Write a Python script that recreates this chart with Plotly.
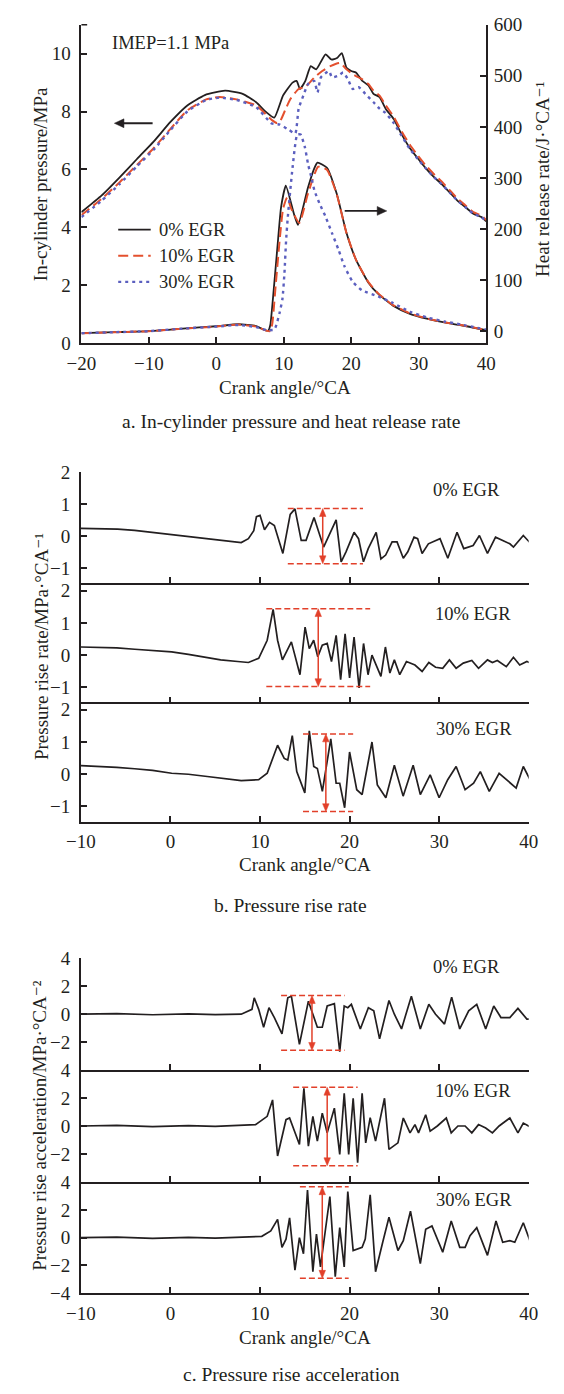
import plotly.graph_objects as go

# ---------------- Panel a: in-cylinder pressure (MPa) ----------------
P0_X = [-20, -17, -14.4, -11.8, -9.3, -6.8, -4.3, -1.7, 1.3, 3.9, 5.9, 7.4, 8.6, 9.9, 11.3, 11.9, 12.4, 13.2, 14.0, 14.8,
        16.2, 17.05, 17.9, 18.6, 19.3, 20.0, 20.7, 21.6, 22.55, 23.3, 24.2, 25.1, 26.3, 27.5, 28.7, 29.8, 31.0, 32.2,
        33.4, 34.6, 35.7, 36.9, 38.1, 39.3, 40]
P0_Y = [4.52, 5.1, 5.71, 6.35, 6.96, 7.64, 8.21, 8.57, 8.72, 8.61, 8.32, 7.98, 7.79, 8.56, 9.0, 9.06, 8.78, 9.06, 9.57,
        9.46, 9.98, 9.8, 9.85, 10.02, 9.51, 9.4, 9.35, 9.07, 8.9, 8.61, 8.5, 8.1, 7.74, 7.2, 6.73, 6.4, 6.05, 5.75, 5.49,
        5.2, 4.93, 4.7, 4.47, 4.35, 4.2]
P10_X = [-20, -17, -14.4, -11.8, -9.3, -6.8, -4.3, -1.5, 0.5, 3.0, 5.9, 8.2, 9.0, 9.4, 10.3, 11.0, 12.2, 13.15, 14.55,
         15.7, 16.9, 18.3, 19.3, 20.2, 21.6, 22.55, 23.3, 24.2, 25.1, 26.3, 27.5, 28.7, 29.8, 31.0, 32.2, 33.4, 34.6,
         35.7, 36.9, 38.1, 39.3, 40]
P10_Y = [4.42, 4.98, 5.54, 6.15, 6.73, 7.4, 8.04, 8.42, 8.5, 8.42, 8.21, 7.71, 7.6, 7.64, 8.1, 8.44, 8.78, 8.84, 9.18,
         9.4, 9.57, 9.68, 9.46, 9.29, 9.12, 8.95, 8.72, 8.55, 8.22, 7.82, 7.3, 6.85, 6.5, 6.15, 5.85, 5.58, 5.28, 5.0,
         4.76, 4.52, 4.4, 4.25]
P30_X = [-20, -17, -14.4, -11.8, -9.3, -6.8, -4.3, -1.5, 0.5, 3.0, 5.9, 8.2, 9.4, 10.8, 11.7, 12.2, 12.9, 13.6, 14.5,
         15.0, 15.5, 16.7, 17.15, 18.1, 18.8, 19.5, 20.2, 21.1, 22.1, 23.3, 24.2, 25.1, 26.3, 27.5, 28.7, 29.8, 31.0,
         32.2, 33.4, 34.6, 35.7, 36.9, 38.1, 39.3, 40]
P30_Y = [4.35, 4.92, 5.48, 6.1, 6.68, 7.36, 8.0, 8.4, 8.48, 8.4, 8.15, 7.59, 7.55, 7.36, 7.24, 8.1, 8.55, 8.95, 9.06,
         8.66, 9.18, 9.4, 9.18, 9.24, 9.35, 9.12, 8.78, 8.84, 8.61, 8.32, 8.1, 7.95, 7.6, 7.15, 6.7, 6.38, 6.05, 5.75,
         5.49, 5.2, 4.93, 4.7, 4.47, 4.35, 4.2]

# ---------------- Panel a: heat release rate (J/°CA) ----------------
H0_X = [-20, -15, -10, -5, 0, 3.3, 5.9, 7.2, 7.7, 8.0, 8.5, 9.15, 9.6, 10.3, 11.5, 12.1, 13.6, 14.55, 15.0, 16.4, 17.85,
        19.3, 20.7, 22.55, 24.0, 26.2, 28.7, 31.2, 33.8, 36.3, 40]
H0_Y = [-4, -2, 0, 5, 9.6, 13.5, 10, 2, 1, 12, 80, 179, 243, 285, 230, 208, 282, 320, 330, 320, 269, 192, 140, 95, 73,
        50, 34, 24.5, 17, 11.6, 2]
H10_X = [-20, -15, -10, -5, 0, 3.3, 5.9, 7.4, 8.0, 8.3, 8.8, 9.4, 9.9, 10.5, 11.1, 12.3, 13.6, 15.1, 16.4, 17.85, 19.3,
         20.7, 22.55, 24.0, 26.2, 28.7, 31.2, 33.8, 36.3, 40]
H10_Y = [-4, -2, 0, 5, 9, 13, 9, 1, 0, 15, 90, 180, 240, 262, 240, 212, 270, 322, 316, 268, 192, 140, 96, 74, 51, 35,
         25, 17.5, 12, 2]
H30_X = [-20, -15, -10, -5, 0, 3.3, 5.9, 7.5, 8.6, 8.9, 9.4, 9.8, 10.1, 10.35, 10.6, 11.3, 12.0, 12.5, 13.15, 13.6,
         14.1, 14.55, 15.3, 16.2, 17.15, 18.1, 19.0, 20.2, 21.6, 24.0, 26.2, 28.7, 31.2, 33.8, 36.3, 40]
H30_Y = [-4, -2, 0, 5, 9, 12, 8, 2, 3, 12, 37, 63, 114, 179, 224, 320, 385, 385, 359, 327, 301, 275, 250, 224, 192,
         160, 127, 97, 80, 68, 55, 38, 27, 19, 13, 3]

# ---------------- Panel b: pressure rise rate (MPa/°CA) ----------------
R0_X = [-10, -8, -5.9, -4, -2, 0.1, 2, 4, 5.6, 7.9, 8.7, 9.3, 9.6, 10.0, 10.5, 11.06, 11.6, 12.55, 13.37, 13.9, 14.6,
        15.14, 16.03, 17.1, 18.5, 19.06, 19.6, 20.5, 21.0, 21.55, 22.08, 22.97, 23.5, 24.03, 24.75, 25.3, 26.0, 26.5,
        27.2, 27.6, 28.1, 28.8, 30.1, 30.97, 32.0, 32.75, 33.8, 34.5, 35.4, 36.3, 37.9, 38.3, 39.4, 40.6]
R0_Y = [0.24, 0.23, 0.22, 0.18, 0.12, 0.04, 0.0, -0.07, -0.13, -0.2, -0.08, 0.17, 0.61, 0.65, 0.2, 0.43, 0.33, -0.54,
        0.68, 0.85, -0.13, -0.13, 0.58, -0.34, 0.51, -0.8, -0.49, 0.12, -0.08, -0.8, -0.39, 0.12, -0.71, -0.59, -0.18,
        -0.18, -0.69, -0.49, -0.03, -0.08, -0.54, -0.24, -0.08, -0.69, 0.12, -0.39, -0.29, 0.02, -0.54, -0.03, -0.24,
        -0.34, 0.02, -0.34]
R10_X = [-10, -8, -6, -4, -2, 0.13, 2, 4, 5.6, 7.5, 8.7, 9.85, 10.8, 11.46, 11.96, 12.5, 13.5, 14.46, 15.03, 15.5, 15.99,
         16.45, 16.95, 17.5, 17.98, 18.5, 19.0, 19.5, 20.0, 20.5, 21.06, 21.56, 22.06, 22.5, 23.5, 24.0, 24.5, 25.0,
         25.6, 26.35, 27.3, 28.1, 28.85, 29.6, 30.4, 31.15, 31.9, 32.7, 33.65, 34.4, 35.4, 35.95, 36.5, 37.5, 38.3,
         39.0, 39.8, 40.55]
R10_Y = [0.25, 0.24, 0.22, 0.18, 0.13, 0.1, 0.02, -0.07, -0.15, -0.2, -0.23, -0.1, 0.46, 1.42, 0.46, -0.15, 0.41,
         -0.61, 0.87, 0.2, 0.46, -0.05, 0.31, 0.36, -0.2, 0.61, -0.76, 0.66, -0.71, 0.56, -1.02, 0.36, -0.61, 0.0,
         -0.66, 0.25, -0.56, -0.15, -0.61, -0.2, -0.31, -0.51, -0.23, -0.38, -0.41, -0.15, -0.41, -0.25, -0.17, -0.41,
         -0.15, -0.23, -0.17, -0.36, -0.07, -0.31, -0.2, -0.28]
R30_X = [-10, -8, -6, -4, -2, 0.13, 2, 4.1, 6, 7.9, 9.85, 10.8, 11.96, 12.7, 13.1, 13.6, 14.1, 15.0, 15.5, 16.0, 16.4,
         16.96, 17.9, 18.5, 18.9, 19.45, 20.0, 20.8, 21.4, 22.5, 23.1, 24.05, 25.0, 25.98, 27.1, 27.9, 29.0, 30.0,
         30.96, 31.9, 32.9, 33.85, 34.6, 35.6, 36.7, 37.9, 38.6, 39.4, 40.55]
R30_Y = [0.27, 0.25, 0.21, 0.17, 0.12, 0.03, 0.0, -0.07, -0.13, -0.2, -0.17, 0.03, 0.9, 0.49, 0.44, 1.2, 0.08, -0.58,
         1.35, 0.24, 0.18, -0.53, 1.1, -0.28, -0.28, -1.04, 0.69, -0.48, -0.63, 1.0, -0.33, -0.73, 0.28, -0.68, 0.28,
         -0.63, -0.02, -0.73, -0.17, 0.24, -0.48, -0.28, 0.08, -0.53, 0.03, -0.28, -0.43, 0.24, -0.38]

# ---------------- Panel c: pressure rise acceleration (MPa/°CA^2) ----------------
A0_X = [-10, -6, -2, 2, 5, 7.9, 9.1, 9.35, 9.85, 10.4, 11.0, 11.6, 12.45, 13.1, 13.5, 14.4, 15.4, 15.8, 16.4, 16.95,
        17.5, 18.3, 18.9, 19.4, 19.8, 20.2, 21.2, 22.1, 22.7, 23.35, 24.4, 25.0, 25.8, 26.9, 27.9, 28.85, 29.6, 30.6,
        31.4, 32.3, 33.3, 34.2, 35.2, 36.1, 36.9, 37.9, 38.8, 39.8, 40.4]
A0_Y = [0, 0.04, -0.04, 0.03, -0.03, 0, 0.35, 1.18, 0.35, -0.94, 0.47, -0.24, -1.41, 1.18, 1.3, -2.17, 0.94, 0.24,
        -0.94, -0.94, 0.59, 0.76, -2.7, 0.59, 0.47, 0.71, -1.06, 0.47, 0.24, -1.77, 0.99, 0.0, -1.06, 1.3, -1.06, 0.71,
        0.0, -0.71, 1.23, -1.06, 0.24, 0.71, -1.06, 0.59, -0.24, -0.24, 0.42, -0.35, -0.35]
A10_X = [-10, -6, -2, 2, 5, 9.5, 10.8, 11.4, 11.96, 12.9, 13.3, 14.4, 14.9, 15.4, 15.9, 16.4, 16.95, 17.5, 18.3, 18.9,
         19.4, 19.9, 20.4, 20.9, 21.4, 21.8, 22.3, 22.9, 23.9, 24.4, 25.4, 26.0, 26.75, 27.3, 27.7, 28.5, 29.0, 29.8,
         30.8, 31.35, 32.1, 32.9, 33.65, 34.4, 35.2, 35.95, 36.7, 37.9, 38.8, 39.4, 40.4]
A10_Y = [0, 0.04, -0.04, 0.03, -0.03, 0.1, 0.69, 1.86, -2.14, 0.45, 0.57, -1.32, 2.69, -1.44, 0.69, -1.08, 0.92, -0.49,
         1.27, -2.03, 2.33, -2.03, 1.98, -2.61, 2.33, -1.2, 0.6, -1.08, 1.98, -1.67, -1.2, 0.57, -0.49, 0.1, -0.49, 0.8,
         -0.37, 0.0, 0.57, -0.49, 0.0, 0.0, -0.49, 0.1, -0.14, -0.49, 0.0, 0.57, -0.49, 0.21, -0.14]
A30_X = [-10, -6, -2, 2, 5, 10.2, 11.2, 11.96, 12.45, 12.9, 13.3, 13.9, 14.4, 14.85, 15.3, 15.9, 16.3, 16.75, 17.8, 18.4,
         18.9, 19.4, 19.8, 20.4, 21.4, 21.75, 22.3, 22.9, 23.7, 24.4, 25.4, 26.0, 26.8, 27.9, 28.5, 29.2, 30.4, 31.35,
         32.3, 32.9, 33.45, 34.2, 35.4, 36.35, 37.1, 37.9, 38.45, 39.4, 40.4]
A30_Y = [0, 0.04, -0.05, 0.03, -0.03, 0.1, 0.49, 1.32, -0.69, -0.1, 1.43, -2.33, 0, -1.15, 3.44, -2.45, 0.26, -2.1, 2.97,
         -2.8, 0.73, -2.1, 3.32, -0.92, -0.69, -0.1, 3.09, -2.45, -0.33, 1.48, -0.92, -0.21, 1.91, -1.86, 0.61, 0.85,
         -1.04, 1.2, -0.69, -0.69, 0.14, 0.73, -1.27, 1.2, -0.33, -0.21, -0.33, 1.08, -0.69]

# ---------------- red amplitude markers ----------------
RB_X0 = [13.1, 10.7, 14.8]
RB_X1 = [21.5, 22.3, 20.4]
RB_XA = [17.0, 16.5, 17.35]
RB_TOP = [0.86, 1.44, 1.25]
RB_BOT = [-0.86, -0.98, -1.16]
RC_X0 = [12.35, 13.7, 14.45]
RC_X1 = [19.45, 20.9, 19.9]
RC_XA = [15.8, 17.5, 16.95]
RC_TOP = [1.34, 2.76, 3.67]
RC_BOT = [-2.6, -2.83, -2.92]

SERIES = ["0% EGR", "10% EGR", "30% EGR"]

# ---------------- styling ----------------
W, H = 564, 1394
FONT = "Liberation Serif, Times New Roman, DejaVu Serif, serif"
INK = "#231f20"
RED = "#e4502e"
BLUE = "#5b5fbf"
ARED = "#e2402a"


def fx(p):
    return p / W


def fy(p):
    return 1 - p / H


fig = go.Figure()

solid = dict(color=INK, width=1.8)
dashed = dict(color=RED, width=2.0, dash="10px,5px")
dotted = dict(color=BLUE, width=2.4, dash="3px,4px")

for xs, ys, st in [(P0_X, P0_Y, solid), (P10_X, P10_Y, dashed), (P30_X, P30_Y, dotted)]:
    fig.add_trace(go.Scatter(x=xs, y=ys, xaxis="x", yaxis="y", mode="lines", showlegend=False,
                             line=dict(shape="spline", smoothing=0.5, **st)))
for xs, ys, st in [(H0_X, H0_Y, solid), (H10_X, H10_Y, dashed), (H30_X, H30_Y, dotted)]:
    fig.add_trace(go.Scatter(x=xs, y=ys, xaxis="x", yaxis="y2", mode="lines", showlegend=False,
                             line=dict(shape="spline", smoothing=0.5, **st)))

b_pairs = [("x2", "y3"), ("x3", "y4"), ("x4", "y5")]
c_pairs = [("x5", "y6"), ("x6", "y7"), ("x7", "y8")]
for (xa, ya), (xs, ys) in zip(b_pairs, [(R0_X, R0_Y), (R10_X, R10_Y), (R30_X, R30_Y)]):
    fig.add_trace(go.Scatter(x=xs, y=ys, xaxis=xa, yaxis=ya, mode="lines", showlegend=False,
                             line=dict(color=INK, width=1.7)))
for (xa, ya), (xs, ys) in zip(c_pairs, [(A0_X, A0_Y), (A10_X, A10_Y), (A30_X, A30_Y)]):
    fig.add_trace(go.Scatter(x=xs, y=ys, xaxis=xa, yaxis=ya, mode="lines", showlegend=False,
                             line=dict(color=INK, width=1.7)))

tickfont = dict(family=FONT, size=19, color=INK)
common = dict(showline=True, linecolor=INK, linewidth=1.8, ticks="inside", ticklen=6, tickwidth=1.5,
              tickcolor=INK, showgrid=False, zeroline=False, tickfont=tickfont, fixedrange=True)

layout = dict(width=W, height=H, margin=dict(l=0, r=0, t=0, b=0), paper_bgcolor="white", plot_bgcolor="white",
              showlegend=False, font=dict(family=FONT, size=18, color=INK))

# geometry (pixels)
A_X = [69.5, 493]
A_Y = [15, 338]
BX = [69, 537.5]
b_dom = [(469, 582), (582, 703), (703, 824)]
b_rng = [[-1.47, 2.005], [-1.47, 2.23], [-1.47, 2.23]]
c_dom = [(963, 1076), (1076, 1190), (1190, 1303)]
c_rng = [[-4, 4.01], [-4, 4.01], [-4.01, 4.01]]

layout["xaxis"] = dict(domain=[fx(A_X[0]), fx(A_X[1])], range=[-20, 40], anchor="y",
                       tickvals=[-20, -10, 0, 10, 20, 30, 40], ticklabelstandoff=2, **common)
layout["yaxis"] = dict(domain=[fy(A_Y[1]), fy(A_Y[0])], range=[0, 11], anchor="x",
                       tickvals=[0, 2, 4, 6, 8, 10], ticklabelstandoff=5, **common)
layout["yaxis2"] = dict(range=[-23, 600], anchor="x", overlaying="y", side="right",
                        tickvals=[0, 100, 200, 300, 400, 500, 600], ticklabelstandoff=2, **common)

for i, ((xa, ya), (top, bot), rng) in enumerate(zip(b_pairs, b_dom, b_rng)):
    layout["xaxis" + xa[1:]] = dict(domain=[fx(BX[0]), fx(BX[1])], range=[-10, 40], anchor=ya,
                                    tickvals=[-10, 0, 10, 20, 30, 40], showticklabels=(i == 2),
                                    ticklabelstandoff=2, **common)
    layout["yaxis" + ya[1:]] = dict(domain=[fy(bot), fy(top)], range=rng, anchor=xa,
                                    tickvals=[-1, 0, 1, 2], ticklabelstandoff=5, **common)

for i, ((xa, ya), (top, bot), rng) in enumerate(zip(c_pairs, c_dom, c_rng)):
    layout["xaxis" + xa[1:]] = dict(domain=[fx(BX[0]), fx(BX[1])], range=[-10, 40], anchor=ya,
                                    tickvals=[-10, 0, 10, 20, 30, 40], showticklabels=(i == 2),
                                    ticklabelstandoff=2, **common)
    layout["yaxis" + ya[1:]] = dict(domain=[fy(bot), fy(top)], range=rng, anchor=xa,
                                    tickvals=([-4, -2, 0, 2, 4] if i == 2 else [-2, 0, 2, 4]),
                                    ticklabelstandoff=5, **common)

fig.update_layout(**layout)

annotations = []
shapes = []


def text(x, y, s, size=18, angle=0, xanchor="center"):
    annotations.append(dict(x=fx(x), y=fy(y), xref="paper", yref="paper", text=s, showarrow=False,
                            textangle=angle, xanchor=xanchor, yanchor="middle",
                            font=dict(family=FONT, size=size, color=INK)))


def paper_arrow(x0, x1, y, color, head=10, half=4.5):
    d = 1 if x1 > x0 else -1
    shapes.append(dict(type="line", xref="paper", yref="paper", x0=fx(x0), x1=fx(x1 - d * head * 0.6),
                       y0=fy(y), y1=fy(y), line=dict(color=color, width=1.8)))
    path = "M {} {} L {} {} L {} {} Z".format(fx(x1), fy(y), fx(x1 - d * head), fy(y - half),
                                               fx(x1 - d * head), fy(y + half))
    shapes.append(dict(type="path", xref="paper", yref="paper", path=path, fillcolor=color,
                       line=dict(color=color, width=0.5)))


# Panel a texts
text(99, 33, "IMEP=1.1 MPa", size=18.5, xanchor="left")
leg_rows = [223, 249.5, 276]
for row, name, st in zip(leg_rows, SERIES, [solid, dashed, dotted]):
    shapes.append(dict(type="line", xref="paper", yref="paper", x0=fx(108), x1=fx(142), y0=fy(row), y1=fy(row),
                       line=dict(color=st["color"], width=st["width"], dash=st.get("dash", "solid"))))
    text(149, row, name, size=18.5, xanchor="left")
paper_arrow(144, 104, 115, INK)
paper_arrow(345, 389, 204, INK)
shapes.append(dict(type="line", xref="paper", yref="paper", x0=fx(A_X[0]), x1=fx(A_X[0] + 6),
                   y0=fy(A_Y[0]), y1=fy(A_Y[0]), line=dict(color=INK, width=1.5)))

# axis titles and captions
text(26, 177, "In-cylinder pressure/MPa", size=19, angle=-90)
text(552, 172, "Heat release rate/J·°CA⁻¹", size=19, angle=-90)
text(282, 383, "Crank angle/°CA", size=19)
text(289, 418, "a. In-cylinder pressure and heat release rate", size=19.5)

text(28, 646, "Pressure rise rate/MPa·°CA⁻¹", size=19, angle=-90)
text(303, 868, "Crank angle/°CA", size=19)
text(288, 909, "b. Pressure rise rate", size=19.5)

text(26, 1132, "Pressure rise acceleration/MPa·°CA⁻²", size=19, angle=-90)
text(303, 1348, "Crank angle/°CA", size=19)
text(289, 1385, "c. Pressure rise acceleration", size=19.5)

for (x, y), s in zip([(472, 487), (479, 613), (480, 730)], SERIES):
    text(x, y, s, size=18.5)
for (x, y), s in zip([(472, 972), (479, 1098), (480, 1208)], SERIES):
    text(x, y, s, size=18.5)

PX_PER_DEG = (BX[1] - BX[0]) / 50.0


def amp(pairs, doms, rngs, X0, X1, XA, TOP, BOT):
    for (xa, ya), (top_px, bot_px), rng, a0, a1, xm, t, b in zip(pairs, doms, rngs, X0, X1, XA, TOP, BOT):
        px_per_unit = (bot_px - top_px) / (rng[1] - rng[0])
        dx = 3.4 / PX_PER_DEG
        dy = 8.0 / px_per_unit
        for yv in (t, b):
            shapes.append(dict(type="line", xref=xa, yref=ya, x0=a0, x1=a1, y0=yv, y1=yv,
                               line=dict(color=ARED, width=1.5, dash="6px,3px")))
        shapes.append(dict(type="line", xref=xa, yref=ya, x0=xm, x1=xm, y0=b + dy * 0.5, y1=t - dy * 0.5,
                           line=dict(color=ARED, width=1.5)))
        for tip, base in ((t, t - dy), (b, b + dy)):
            path = "M {} {} L {} {} L {} {} Z".format(xm, tip, xm - dx, base, xm + dx, base)
            shapes.append(dict(type="path", xref=xa, yref=ya, path=path, fillcolor=ARED,
                               line=dict(color=ARED, width=0.5)))


amp(b_pairs, b_dom, b_rng, RB_X0, RB_X1, RB_XA, RB_TOP, RB_BOT)
amp(c_pairs, c_dom, c_rng, RC_X0, RC_X1, RC_XA, RC_TOP, RC_BOT)

fig.update_layout(annotations=annotations, shapes=shapes)
fig.write_html("out.html", config={"displayModeBar": False},
               post_script="document.body.style.margin='0px';document.body.style.overflow='hidden';")
